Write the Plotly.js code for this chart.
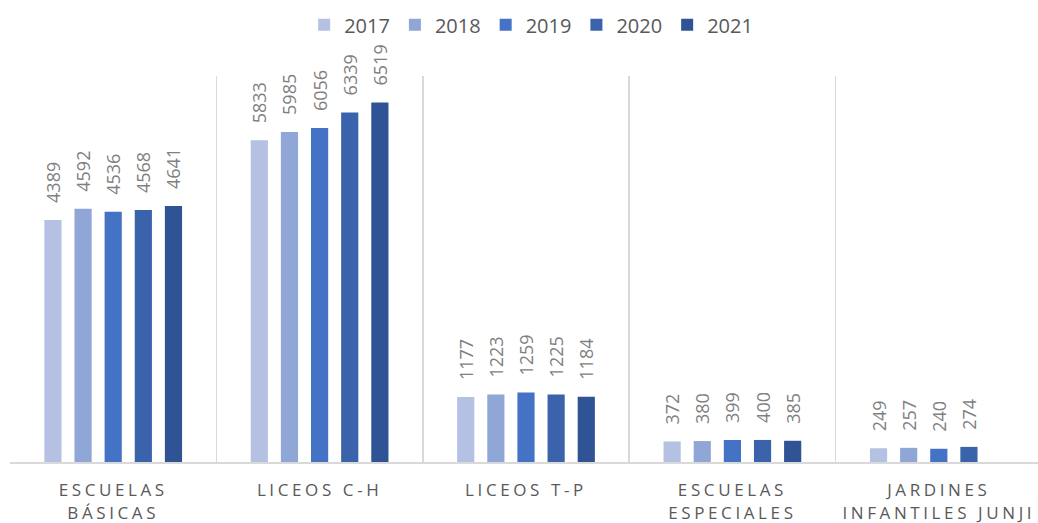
<!DOCTYPE html>
<html><head><meta charset="utf-8">
<script src="https://cdn.plot.ly/plotly-3.0.1.min.js"></script>
<style>
html,body{margin:0;padding:0;overflow:hidden;background:#fff;}
#chart{width:1044px;height:523px;}
.xtick text{letter-spacing:3.6px;}
</style></head>
<body><div id="chart"></div>
<script>
const categories = ["ESCUELAS<br>BÁSICAS", "LICEOS C-H", "LICEOS T-P", "ESCUELAS<br>ESPECIALES", "JARDINES<br>INFANTILES JUNJI"];
const years = ["2017", "2018", "2019", "2020", "2021"];
const v2017 = [4389, 5833, 1177, 372, 249];
const v2018 = [4592, 5985, 1223, 380, 257];
const v2019 = [4536, 6056, 1259, 399, 240];
const v2020 = [4568, 6339, 1225, 400, 274];
const v2021 = [4641, 6519, 1184, 385, null];
const colors = ["#b4c1e3", "#8fa6d6", "#4472c4", "#3a63ab", "#2f5394"];
const series = [v2017, v2018, v2019, v2020, v2021];
const PAD = "\u00a0\u00a0\u00a0";

const traces = series.map((vals, i) => ({
  type: "bar",
  name: years[i],
  x: categories,
  y: vals,
  marker: {color: colors[i]},
  text: vals.map(v => v === null ? "" : PAD + String(v)),
  textposition: "outside",
  textangle: -90,
  constraintext: "none",
  cliponaxis: false,
  textfont: {family: "Open Sans, Noto Sans, sans-serif", size: 18, color: "#7f7f7f"},
  hoverinfo: "x+y+name"
}));

const layout = {
  width: 1044, height: 523,
  margin: {l: 10, r: 2, t: 76, b: 61},
  paper_bgcolor: "#fff", plot_bgcolor: "#fff",
  barmode: "group",
  bargap: 0.27,
  bargroupgap: 0.43,
  showlegend: true,
  legend: {orientation: "h", x: 0.505, xanchor: "center", y: 0.99, yref: "container", yanchor: "top",
    bgcolor: "rgba(0,0,0,0)",
    font: {family: "Open Sans, Noto Sans, sans-serif", size: 20, color: "#595959"},
    traceorder: "normal"},
  xaxis: {
    type: "category",
    tickson: "boundaries",
    showgrid: true, gridcolor: "#d9d9d9", gridwidth: 1.5,
    ticks: "", showline: true, linecolor: "#d9d9d9", linewidth: 2,
    ticklabelstandoff: 12,
    tickfont: {family: "Open Sans, Noto Sans, sans-serif", size: 17, color: "#595959"},
    automargin: false
  },
  yaxis: {
    range: [0, 7000],
    showgrid: false, showticklabels: false, zeroline: false, showline: false, ticks: ""
  },
  font: {family: "Open Sans, Noto Sans, sans-serif"}
};

Plotly.newPlot("chart", traces, layout, {displayModeBar: false, staticPlot: true});
</script></body></html>
